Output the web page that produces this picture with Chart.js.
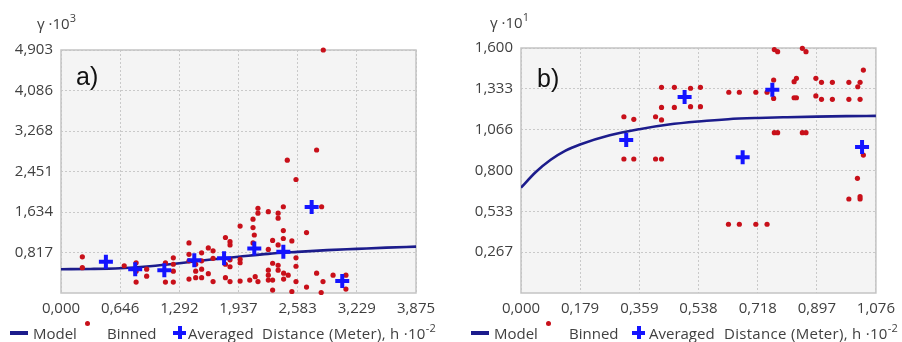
<!DOCTYPE html>
<html>
<head>
<meta charset="utf-8">
<script src="https://cdn.jsdelivr.net/npm/chart.js@4"></script>
<style>
body{margin:0;background:#fff;font-family:'Open Sans',sans-serif;color:#404040}
#wrap{position:relative;width:902px;height:342px;overflow:hidden}
canvas{position:absolute;top:0}
.t{position:absolute;font-size:15px;white-space:nowrap;line-height:18px}
.w{letter-spacing:0.3px}
.lab{position:absolute;font-size:25px;color:#111;font-family:'Liberation Sans',sans-serif}
.sup{font-size:11px;position:relative;top:-7px}
.ln{position:absolute;width:18px;height:4px;background:#1c1c8c}
.dot{position:absolute;width:5px;height:5px;border-radius:50%;background:#c8101a}
.plus{position:absolute;width:13px;height:13px}
.plus:before{content:'';position:absolute;left:0;top:4.5px;width:13px;height:4px;background:#1414ff}
.plus:after{content:'';position:absolute;top:0;left:4.5px;width:4px;height:13px;background:#1414ff}
</style>
</head>
<body>
<div id="wrap">
<canvas id="chartA" width="451" height="342" style="left:0"></canvas>
<canvas id="chartB" width="451" height="342" style="left:451px"></canvas>

<div class="t" style="left:37px;top:14px">γ ·10<span class="sup">3</span></div>
<div class="t" style="left:490px;top:13px">γ ·10<span class="sup">1</span></div>
<div class="lab" style="left:76px;top:62px">a)</div>
<div class="lab" style="left:537px;top:64px">b)</div>

<div class="ln" style="left:10px;top:331px"></div>
<div class="t" style="left:33px;top:324px">Model</div>
<div class="dot" style="left:85px;top:321px"></div>
<div class="t" style="left:107px;top:324px">Binned</div>
<div class="plus" style="left:173px;top:326px"></div>
<div class="t" style="left:188px;top:324px">Averaged</div>
<div class="t w" style="left:262px;top:324px">Distance (Meter), h ·10<span class="sup">-2</span></div>

<div class="ln" style="left:471px;top:331px"></div>
<div class="t" style="left:494px;top:324px">Model</div>
<div class="dot" style="left:546px;top:321px"></div>
<div class="t" style="left:569px;top:324px">Binned</div>
<div class="plus" style="left:632px;top:326px"></div>
<div class="t" style="left:649px;top:324px">Averaged</div>
<div class="t w" style="left:724px;top:324px">Distance (Meter), h ·10<span class="sup">-2</span></div>
</div>

<script>
// panel a) values
var xTicksA = [0, 0.646, 1.292, 1.937, 2.583, 3.229, 3.875];
var yTicksA = [0.817, 1.634, 2.451, 3.268, 4.086, 4.903];
var binnedA = [
  [0.233,0.73],[0.233,0.51],[0.69,0.55],
  [0.82,0.61],[0.82,0.44],[0.82,0.22],[0.935,0.48],[0.935,0.34],
  [1.14,0.61],[1.14,0.22],[1.226,0.71],[1.226,0.58],[1.226,0.44],[1.226,0.22],
  [1.397,1.01],[1.397,0.78],[1.397,0.65],[1.397,0.28],[1.47,0.58],[1.47,0.44],[1.47,0.31],
  [1.535,0.81],[1.535,0.65],[1.535,0.48],[1.535,0.31],[1.608,0.91],[1.608,0.39],
  [1.66,0.85],[1.66,0.70],[1.66,0.23],[1.795,1.12],[1.795,0.58],[1.795,0.31],
  [1.845,1.035],[1.845,0.97],[1.845,0.67],[1.845,0.53],[1.845,0.23],
  [1.955,1.35],[1.955,0.68],[1.955,0.61],[1.955,0.24],[2.06,0.26],[2.12,0.33],[2.15,0.23],
  [2.096,1.49],[2.096,1.32],[2.11,1.17],[2.096,1.01],
  [2.15,1.71],[2.15,1.61],[2.263,1.64],[2.263,0.88],[2.263,0.46],[2.263,0.36],[2.263,0.26],
  [2.31,1.06],[2.31,0.60],[2.31,0.26],[2.31,0.06],[2.37,1.61],[2.37,1.51],[2.37,0.97],[2.37,0.56],[2.37,0.46],
  [2.427,1.74],[2.427,1.26],[2.427,1.10],[2.43,0.40],[2.43,0.28],[2.48,0.36],
  [2.47,2.68],[2.52,1.05],[2.52,0.03],[2.565,2.29],[2.565,0.71],[2.565,0.54],[2.565,0.23],
  [2.68,1.22],[2.68,0.12],[2.79,2.885],[2.79,0.40],[2.845,1.74],[2.84,0.01],[2.86,0.23],
  [2.863,4.903],[2.97,0.36],[3.11,0.36],[3.11,0.08]
];
var averagedA = [[0.49,0.63],[0.81,0.48],[1.128,0.46],[1.455,0.66],[1.78,0.70],[2.11,0.90],[2.427,0.83],[2.736,1.735],[3.07,0.24]];
var modelAX = [0, 0.323, 0.646, 0.969, 1.292, 1.615, 1.937, 2.26, 2.583, 2.906, 3.229, 3.552, 3.875];
var modelAY = [0.48, 0.485, 0.50, 0.54, 0.60, 0.67, 0.73, 0.79, 0.83, 0.865, 0.89, 0.915, 0.935];

// panel b) values
var xTicksB = [0, 0.179, 0.359, 0.538, 0.718, 0.897, 1.076];
var yTicksB = [0.267, 0.533, 0.800, 1.066, 1.333, 1.600];
var binnedB = [
  [0.312,1.151],[0.342,1.134],[0.312,0.875],[0.342,0.875],
  [0.408,1.151],[0.426,1.130],[0.408,0.875],[0.426,0.875],
  [0.426,1.343],[0.465,1.343],[0.514,1.337],[0.544,1.343],
  [0.426,1.212],[0.465,1.212],[0.514,1.217],[0.544,1.217],
  [0.63,1.311],[0.662,1.311],[0.712,1.311],[0.746,1.311],
  [0.629,0.449],[0.662,0.449],[0.712,0.449],[0.746,0.449],
  [0.766,1.391],[0.766,1.271],[0.768,1.59],[0.778,1.576],[0.768,1.047],[0.778,1.047],
  [0.828,1.38],[0.835,1.402],[0.828,1.275],[0.835,1.275],
  [0.853,1.598],[0.864,1.576],[0.853,1.047],[0.864,1.047],
  [0.894,1.402],[0.911,1.376],[0.894,1.287],[0.911,1.265],
  [0.944,1.376],[0.944,1.265],[0.994,1.376],[0.994,1.265],
  [1.021,1.347],[1.028,1.376],[1.028,1.265],[1.038,1.456],
  [1.038,0.901],[1.02,0.749],[0.994,0.614],[1.028,0.614],[1.028,0.629]
];
var averagedB = [[0.319,0.999],[0.496,1.28],[0.672,0.886],[0.762,1.328],[1.034,0.953]];
var modelBX = [0, 0.045, 0.09, 0.135, 0.179, 0.269, 0.359, 0.448, 0.538, 0.628, 0.718, 0.807, 0.897, 0.987, 1.076];
var modelBY = [0.688, 0.79, 0.87, 0.93, 0.97, 1.03, 1.07, 1.10, 1.12, 1.135, 1.143, 1.148, 1.152, 1.155, 1.157];

Chart.defaults.font.family = "'Open Sans', sans-serif";
Chart.defaults.font.size = 15;
Chart.defaults.color = '#404040';

var plotBox = {
  id: 'plotBox',
  beforeDraw: function(chart) {
    var a = chart.chartArea, ctx = chart.ctx;
    ctx.save();
    ctx.fillStyle = '#f4f4f4';
    ctx.fillRect(a.left, a.top, a.right - a.left, a.bottom - a.top);
    ctx.restore();
  },
  beforeDatasetsDraw: function(chart) {
    var a = chart.chartArea, ctx = chart.ctx;
    ctx.save();
    ctx.strokeStyle = '#c4c4c4';
    ctx.lineWidth = 1.5;
    ctx.strokeRect(a.left, a.top, a.right - a.left, a.bottom - a.top);
    ctx.restore();
  }
};

function fmt(v) { return Number(v).toFixed(3).replace('.', ','); }
function pts(arr) { return arr.map(function(p){ return {x:p[0], y:p[1]}; }); }
function line(xs, ys) { return xs.map(function(x, i){ return {x:x, y:ys[i]}; }); }

function makeChart(id, xt, yt, binned, averaged, mx, my, yw, pad) {
  new Chart(document.getElementById(id), {
    type: 'scatter',
    data: {
      datasets: [
        {label:'Model', type:'line', data: line(mx, my), borderColor:'#1c1c8c', borderWidth:2.6,
         pointRadius:0, tension:0.4, cubicInterpolationMode:'monotone', fill:false, order:3},
        {label:'Binned', data: pts(binned), backgroundColor:'#c8101a', borderColor:'#c8101a',
         pointRadius:2.6, pointBorderWidth:0, clip:false, order:2},
        {label:'Averaged', data: pts(averaged), pointStyle:'cross', pointRadius:7, borderColor:'#1414ff',
         pointBorderWidth:4, backgroundColor:'#1414ff', clip:false, order:1}
      ]
    },
    options: {
      responsive:false, animation:false,
      layout:{padding:pad},
      plugins:{legend:{display:false}, tooltip:{enabled:false}},
      scales:{
        x:{type:'linear', min:xt[0], max:xt[xt.length-1],
           afterBuildTicks:function(s){ s.ticks = xt.map(function(v){return {value:v};}); },
           afterFit:function(s){ s.height = 22; },
           ticks:{callback:fmt, padding:7, maxRotation:0, autoSkip:false},
           grid:{color:'#c9c9c9', lineWidth:1, drawTicks:false},
           border:{display:false, dash:[2,2]}},
        y:{type:'linear', min:0, max:yt[yt.length-1],
           afterBuildTicks:function(s){ s.ticks = yt.map(function(v){return {value:v};}); },
           afterFit:function(s){ s.width = yw; },
           ticks:{callback:fmt, padding:8, autoSkip:false},
           grid:{color:'#c9c9c9', lineWidth:1, drawTicks:false},
           border:{display:false, dash:[2,2]}}
      }
    },
    plugins:[plotBox]
  });
}

makeChart('chartA', xTicksA, yTicksA, binnedA, averagedA, modelAX, modelAY, 61, {left:0, top:50, right:35, bottom:27});
makeChart('chartB', xTicksB, yTicksB, binnedB, averagedB, modelBX, modelBY, 70, {left:0, top:48, right:25, bottom:27});
</script>
</body>
</html>
